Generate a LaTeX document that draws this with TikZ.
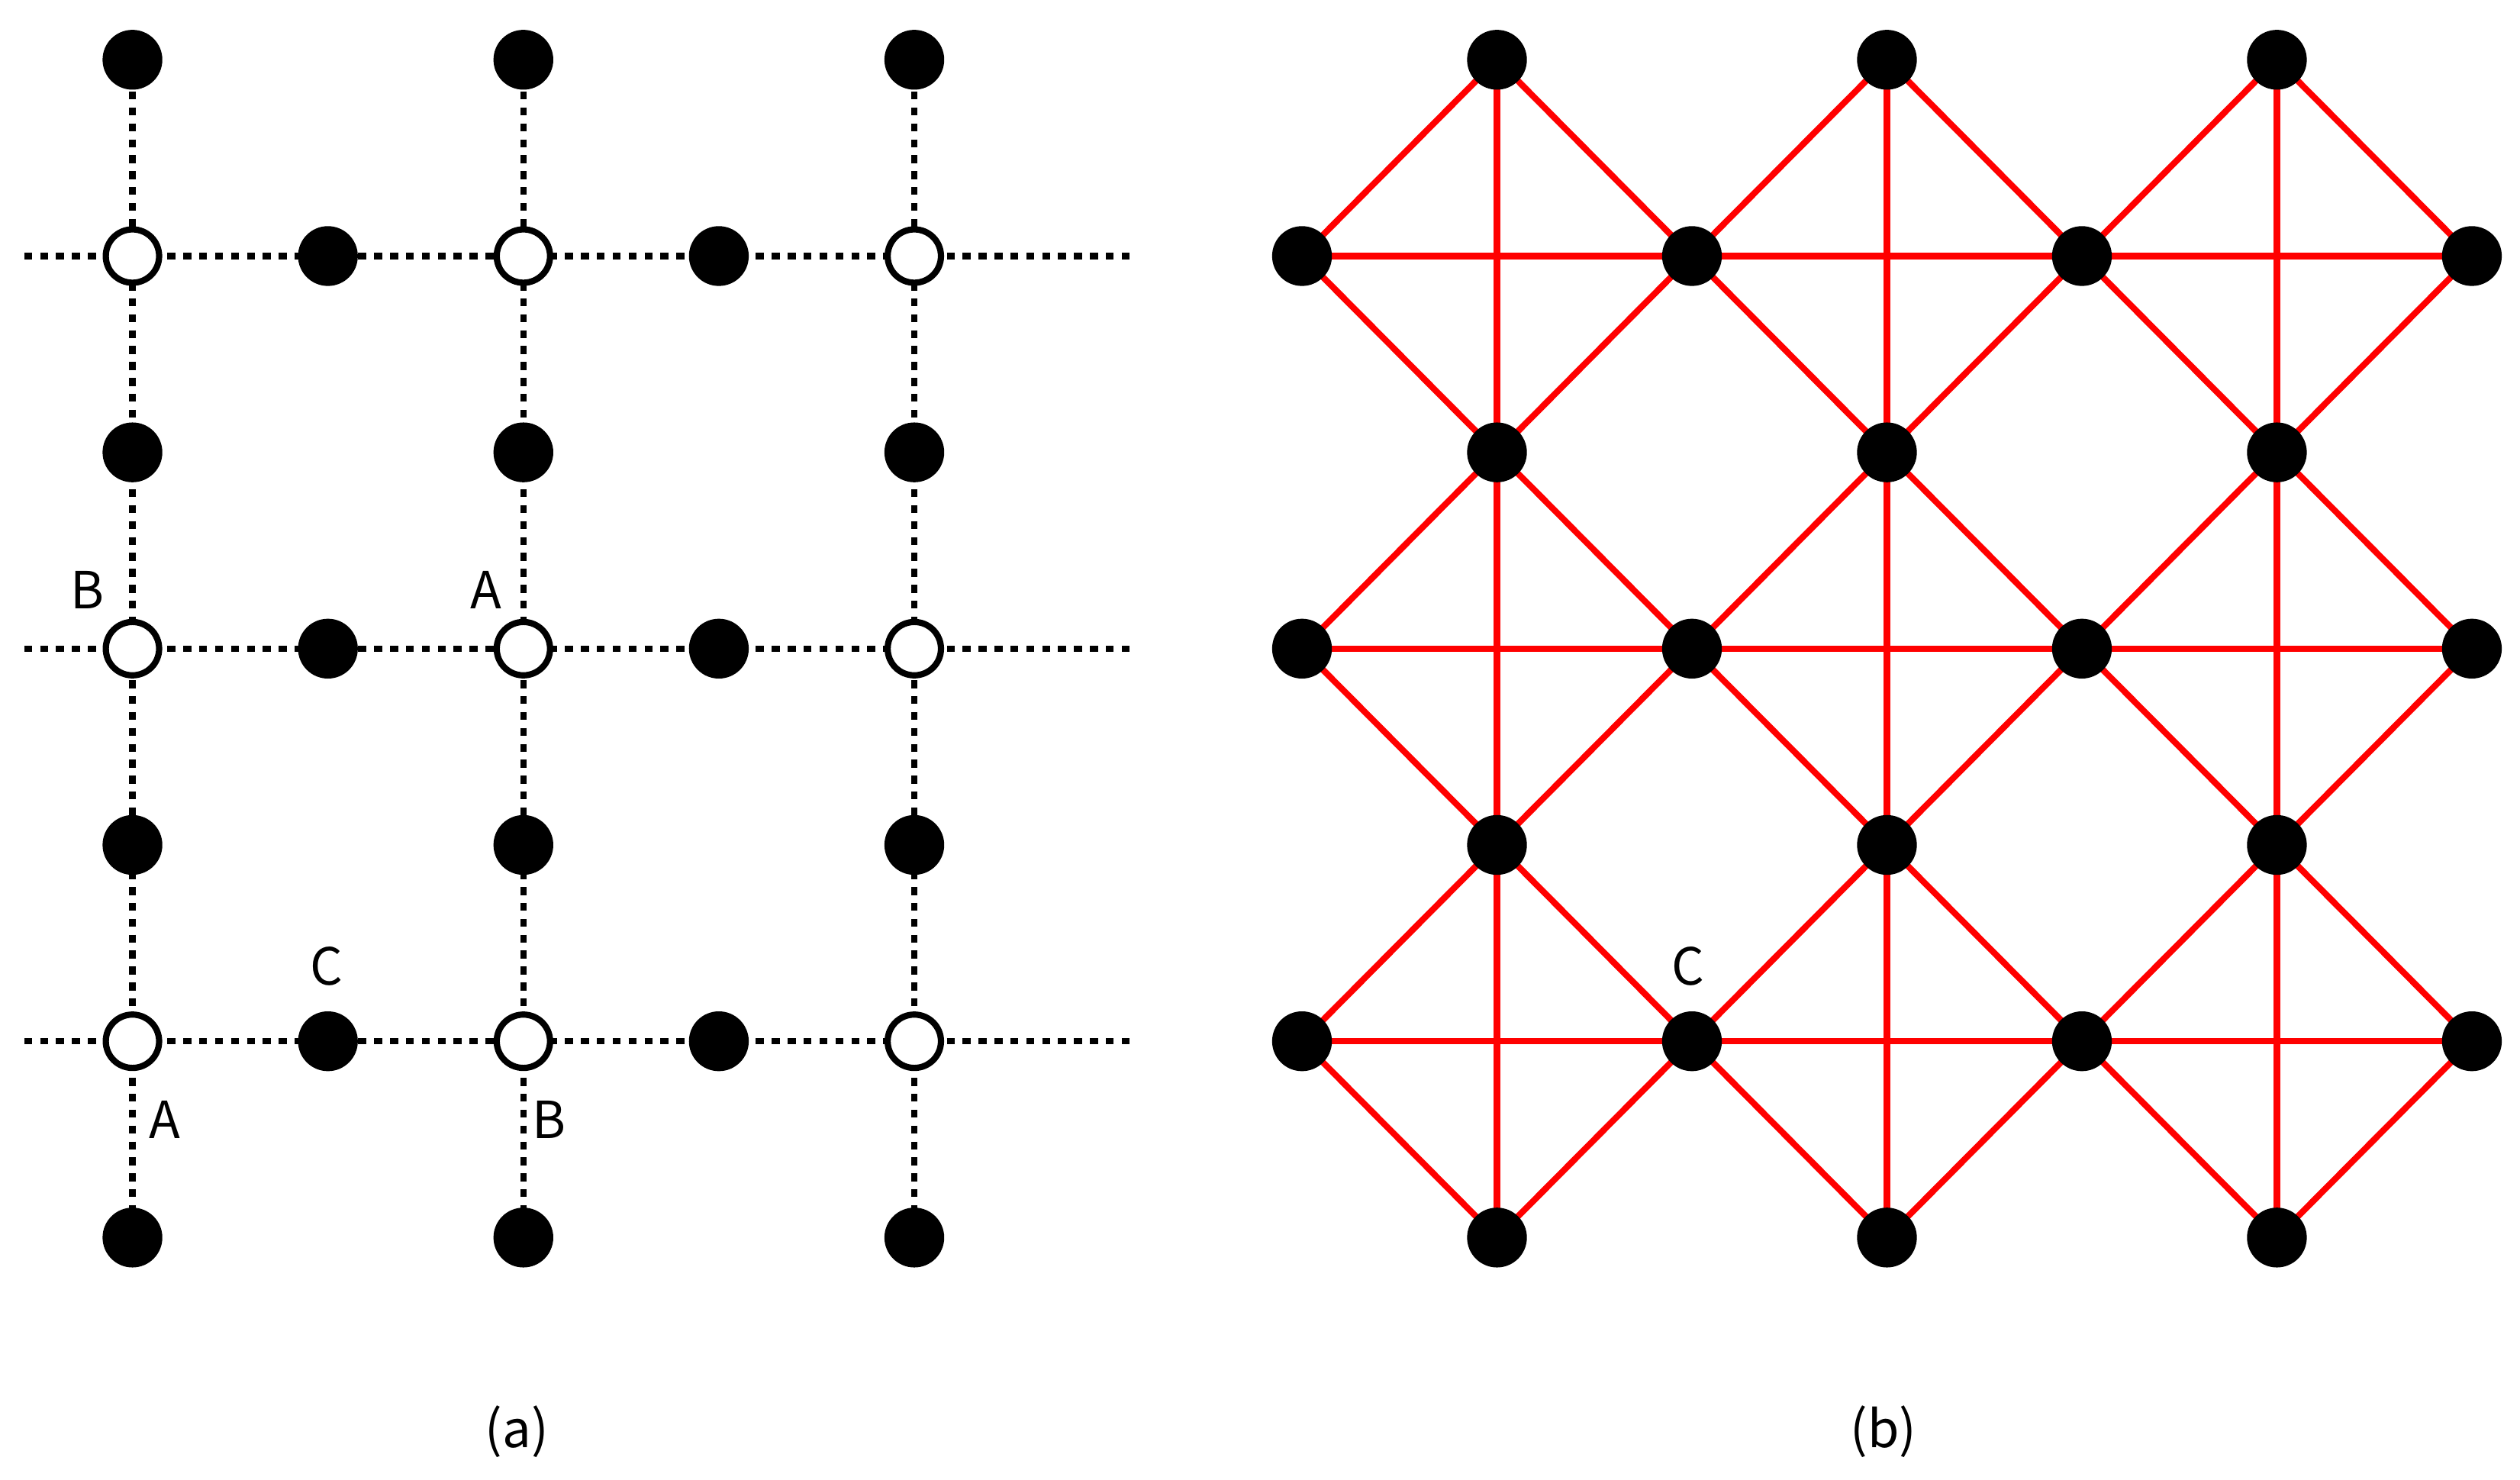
\documentclass[tikz,border=0pt]{standalone}
\usepackage{fontspec}
\newfontfamily\lblfont{Noto Sans CJK JP}
\begin{document}
\begin{tikzpicture}[x=0.01cm,y=-0.01cm,
  fdot/.style={circle,fill=black,inner sep=0pt,minimum size=0.37cm},
  odot/.style={circle,draw=black,fill=white,line width=1.1pt,inner sep=0pt,minimum size=0.33cm},
  dline/.style={line width=1.1pt,dash pattern=on 1.4pt off 1.4pt},
  rline/.style={red,line width=1.1pt},
  lbl/.style={font=\lblfont\fontsize{9}{10}\selectfont}]
\useasboundingbox (0,0) rectangle (1560,916);
% left grid coordinates
\foreach \i in {0,...,4}{\foreach \j in {0,...,6}{
  \coordinate (L\i\j) at ({82+121*\i},{37+121.5*\j});}}
\foreach \j in {1,3,5}{
  \coordinate (Ls\j) at (15,{37+121.5*\j});
  \coordinate (Le\j) at (702,{37+121.5*\j});
  \draw[dline] (Ls\j) -- (Le\j);}
\foreach \i in {0,2,4}{\draw[dline] (L\i0) -- (L\i6);}
\foreach \i in {0,2,4}{
  \foreach \j in {0,2,4,6}{\node[fdot] (a\i\j) at (L\i\j) {};}
  \foreach \j in {1,3,5}{\node[odot] (a\i\j) at (L\i\j) {};}}
\foreach \i in {1,3}{\foreach \j in {1,3,5}{\node[fdot] (a\i\j) at (L\i\j) {};}}
\node[lbl] (tB1) at (54,365) {B};
\node[lbl] (tA1) at (301,365) {A};
\node[lbl] (tC1) at (202,598) {C};
\node[lbl] (tA2) at (102,693) {A};
\node[lbl] (tB2) at (340,693) {B};
\node[lbl] (capa) at (320,886) {(a)};
% right
\foreach \i in {0,...,6}{\foreach \j in {0,...,6}{
  \coordinate (R\i\j) at ({806+120.7*\i},{37+121.5*\j});}}
\foreach \j in {1,3,5}{\draw[rline] (R0\j) -- (R6\j);}
\foreach \i in {1,3,5}{\draw[rline] (R\i0) -- (R\i6);}
\foreach \i/\j in {1/0,3/0,5/0,1/2,3/2,5/2,1/4,3/4,5/4,1/6,3/6,5/6}{
  \pgfmathtruncatemacro\il{\i-1}\pgfmathtruncatemacro\ir{\i+1}
  \ifnum\j>0 \pgfmathtruncatemacro\ju{\j-1}
    \draw[rline] (R\i\j) -- (R\il\ju); \draw[rline] (R\i\j) -- (R\ir\ju); \fi
  \ifnum\j<6 \pgfmathtruncatemacro\jd{\j+1}
    \draw[rline] (R\i\j) -- (R\il\jd); \draw[rline] (R\i\j) -- (R\ir\jd); \fi
}
\foreach \i in {1,3,5}{\foreach \j in {0,2,4,6}{\node[fdot] (b\i\j) at (R\i\j) {};}}
\foreach \i in {0,2,4,6}{\foreach \j in {1,3,5}{\node[fdot] (b\i\j) at (R\i\j) {};}}
\node[lbl] (tC2) at (1045,598) {C};
\node[lbl] (capb) at (1166,886) {(b)};
\end{tikzpicture}
\end{document}
